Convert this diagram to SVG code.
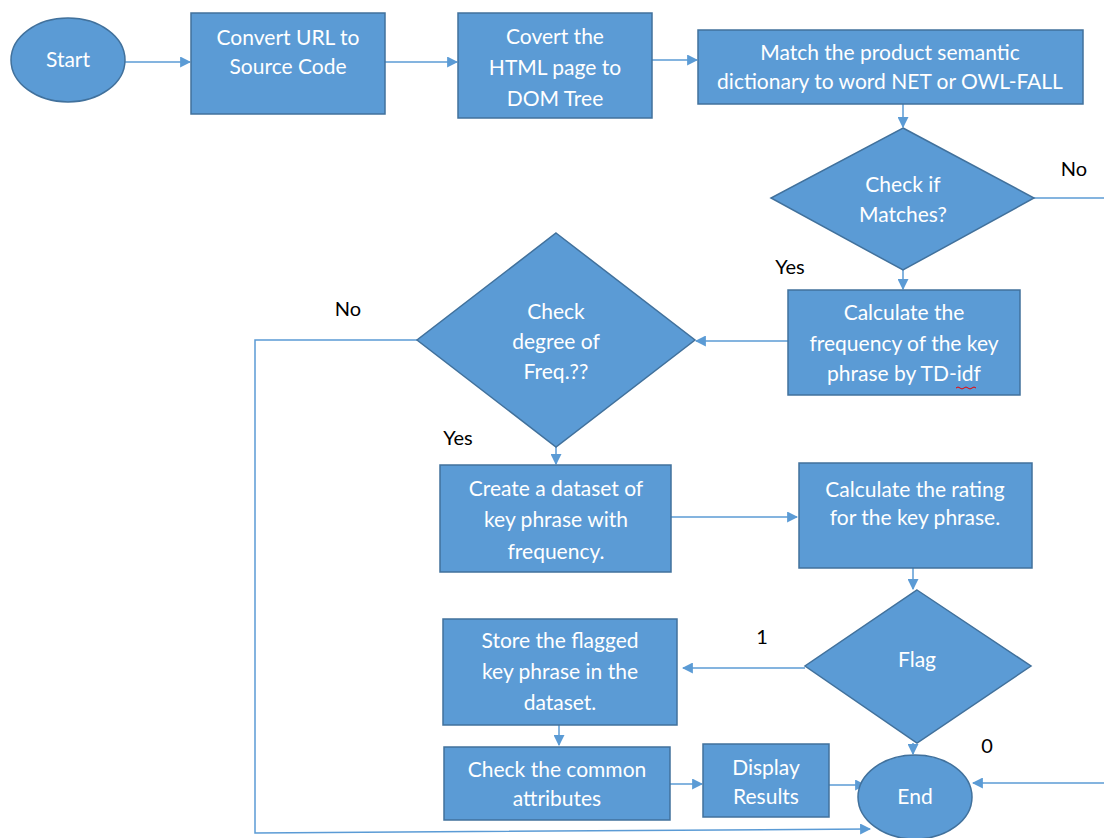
<svg xmlns="http://www.w3.org/2000/svg" width="1104" height="838" viewBox="0 0 1104 838">
<style>
.n{fill:#5B9BD5;stroke:#41719C;stroke-width:1.5}
.t{fill:#fff;font-family:Lato,"Liberation Sans",sans-serif;font-size:21px;text-anchor:middle}
.l{fill:#000;font-family:Lato,"Liberation Sans",sans-serif;font-size:20px;text-anchor:middle}
.c{fill:none;stroke:#5B9BD5;stroke-width:1.5}
</style>
<defs>
<marker id="a" viewBox="0 0 10 10" refX="9" refY="5" markerWidth="11" markerHeight="11" markerUnits="userSpaceOnUse" orient="auto">
<path d="M0,0 L10,5 L0,10 z" fill="#5B9BD5"/>
</marker>
</defs>
<rect width="1104" height="838" fill="#fff"/>
<g id="connectors">
<path class="c" d="M125,62 H190" marker-end="url(#a)"/>
<path class="c" d="M385,62 H457" marker-end="url(#a)"/>
<path class="c" d="M652,60 H697" marker-end="url(#a)"/>
<path class="c" d="M903,104 V127" marker-end="url(#a)"/>
<path class="c" d="M1034,198 H1104"/>
<path class="c" d="M903,270 V289" marker-end="url(#a)"/>
<path class="c" d="M788,341 H696" marker-end="url(#a)"/>
<path class="c" d="M417,340 H255 V833 L870,829" marker-end="url(#a)"/>
<path class="c" d="M556,447 V464" marker-end="url(#a)"/>
<path class="c" d="M671,517 H797" marker-end="url(#a)"/>
<path class="c" d="M913,568 V589" marker-end="url(#a)"/>
<path class="c" d="M805,668 H683" marker-end="url(#a)"/>
<path class="c" d="M559,725 V745" marker-end="url(#a)"/>
<path class="c" d="M670,784 H702" marker-end="url(#a)"/>
<path class="c" d="M829,785 H865" marker-end="url(#a)"/>
<path class="c" d="M913,743 V754" marker-end="url(#a)"/>
<path class="c" d="M1104,783 H973" marker-end="url(#a)"/>
</g>
<g id="labels">
<text class="l" x="1074" y="176">No</text>
<text class="l" x="790" y="274">Yes</text>
<text class="l" x="348" y="316">No</text>
<text class="l" x="458" y="445">Yes</text>
<text class="l" x="762" y="644">1</text>
<text class="l" x="987" y="753">0</text>
</g>
<g id="start">
<ellipse class="n" cx="68" cy="60" rx="57" ry="42"/>
<text class="t" x="68" y="67">Start</text>
</g>
<g id="convert-url">
<rect class="n" x="191" y="13" width="194" height="101"/>
<text class="t" x="288" y="45">Convert URL to</text>
<text class="t" x="288" y="74">Source Code</text>
</g>
<g id="covert-html">
<rect class="n" x="458" y="13" width="194" height="105"/>
<text class="t" x="555" y="44">Covert the</text>
<text class="t" x="555" y="75">HTML page to</text>
<text class="t" x="555" y="106">DOM Tree</text>
</g>
<g id="match">
<rect class="n" x="698" y="30" width="385" height="74"/>
<text class="t" x="890" y="60">Match the product semantic</text>
<text class="t" x="890" y="89">dictionary to word NET or OWL-FALL</text>
</g>
<g id="check-matches">
<polygon class="n" points="903,128 1034,198 903,270 771,198"/>
<text class="t" x="903" y="192">Check if</text>
<text class="t" x="903" y="222">Matches?</text>
</g>
<g id="calc-freq">
<rect class="n" x="788" y="290" width="232" height="105"/>
<text class="t" x="904" y="320">Calculate the</text>
<text class="t" x="904" y="351">frequency of the key</text>
<text class="t" x="904" y="381">phrase by TD-idf</text>
<path d="M956,388 q2,-2 4,0 t4,0 t4,0 t4,0 t4,0" fill="none" stroke="#e00" stroke-width="1"/>
</g>
<g id="check-degree">
<polygon class="n" points="556,233 695,340 556,447 417,340"/>
<text class="t" x="556" y="319">Check</text>
<text class="t" x="556" y="349">degree of</text>
<text class="t" x="556" y="379">Freq.??</text>
</g>
<g id="create-dataset">
<rect class="n" x="440" y="465" width="231" height="107"/>
<text class="t" x="556" y="496">Create a dataset of</text>
<text class="t" x="556" y="527">key phrase with</text>
<text class="t" x="556" y="559">frequency.</text>
</g>
<g id="calc-rating">
<rect class="n" x="799" y="463" width="233" height="105"/>
<text class="t" x="915" y="497">Calculate the rating</text>
<text class="t" x="915" y="525">for the key phrase.</text>
</g>
<g id="flag">
<polygon class="n" points="917,590 1031,666 917,743 805,666"/>
<text class="t" x="917" y="667">Flag</text>
</g>
<g id="store">
<rect class="n" x="443" y="619" width="234" height="106"/>
<text class="t" x="560" y="648">Store the flagged</text>
<text class="t" x="560" y="679">key phrase in the</text>
<text class="t" x="560" y="710">dataset.</text>
</g>
<g id="check-common">
<rect class="n" x="444" y="747" width="226" height="73"/>
<text class="t" x="557" y="777">Check the common</text>
<text class="t" x="557" y="806">attributes</text>
</g>
<g id="display">
<rect class="n" x="703" y="744" width="126" height="73"/>
<text class="t" x="766" y="775">Display</text>
<text class="t" x="766" y="804">Results</text>
</g>
<g id="end">
<ellipse class="n" cx="915" cy="797" rx="57" ry="42"/>
<text class="t" x="915" y="804">End</text>
</g>
</svg>
